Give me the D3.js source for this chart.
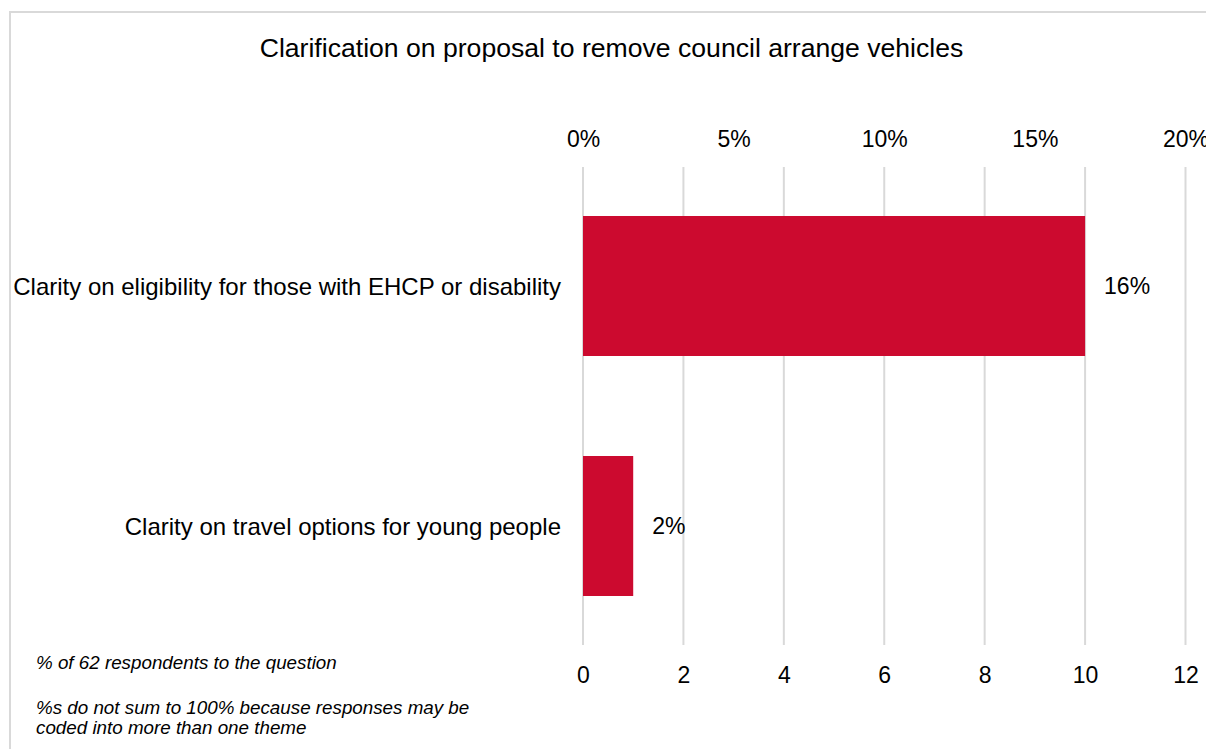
<!DOCTYPE html>
<html>
<head>
<meta charset="utf-8">
<script src="https://cdn.jsdelivr.net/npm/d3@7"></script>
<style>
  html, body { margin: 0; padding: 0; background: #ffffff; }
  svg { display: block; font-family: "Liberation Sans", Arial, sans-serif; }
</style>
</head>
<body>
<svg id="chart" width="1206" height="749"></svg>
<script>
// Themes and the number of respondents who raised each one
const categories = [
  "Clarity on eligibility for those with EHCP or disability",
  "Clarity on travel options for young people"
];
const counts = [10, 1];
const respondents = 62;

// Axis ticks: respondent counts along the bottom, share of respondents along the top
const countTicks = [0, 2, 4, 6, 8, 10, 12];
const shareTicks = [0, 0.05, 0.10, 0.15, 0.20];

const title = "Clarification on proposal to remove council arrange vehicles";
const notes = [
  "% of 62 respondents to the question",
  "%s do not sum to 100% because responses may be",
  "coded into more than one theme"
];

const rows = categories.map((c, i) => ({ name: c, count: counts[i], share: counts[i] / respondents }));

const svg = d3.select("#chart");
const barColor = "#cc0a2f";
const gridColor = "#d9d9d9";
const textColor = "#000000";

// Outer frame
svg.append("rect")
  .attr("x", 10).attr("y", 12)
  .attr("width", 1260).attr("height", 800)
  .attr("fill", "none")
  .attr("stroke", gridColor)
  .attr("stroke-width", 2);

// Scales
const x = d3.scaleLinear().domain([0, 12]).range([583, 1185.5]);
const xShare = d3.scaleLinear().domain([0, 0.20]).range([583, 1185.5]);
const y = d3.scaleBand().domain(categories).range([166, 646])
  .paddingInner(100 / 240).paddingOuter(50 / 240);

// Title
svg.append("text")
  .attr("x", 611.5).attr("y", 57)
  .attr("text-anchor", "middle")
  .attr("font-size", 26.6)
  .attr("fill", textColor)
  .text(title);

// Vertical gridlines
svg.append("g")
  .selectAll("line")
  .data(countTicks)
  .join("line")
  .attr("x1", d => x(d)).attr("x2", d => x(d))
  .attr("y1", 167).attr("y2", 645)
  .attr("stroke", gridColor)
  .attr("stroke-width", 2);

// Top axis (share of respondents)
const topAxis = svg.append("g")
  .attr("transform", "translate(0,147)")
  .call(d3.axisTop(xShare).tickValues(shareTicks).tickFormat(d3.format(".0%")).tickSize(0).tickPadding(0));
topAxis.select(".domain").remove();
topAxis.selectAll("text")
  .attr("font-size", 23)
  .attr("font-family", "Liberation Sans, Arial, sans-serif")
  .attr("fill", textColor)
  .attr("dy", 0);

// Bottom axis (respondent counts)
const bottomAxis = svg.append("g")
  .attr("transform", "translate(0,683)")
  .call(d3.axisBottom(x).tickValues(countTicks).tickFormat(d3.format("d")).tickSize(0).tickPadding(0));
bottomAxis.select(".domain").remove();
bottomAxis.selectAll("text")
  .attr("font-size", 23)
  .attr("font-family", "Liberation Sans, Arial, sans-serif")
  .attr("fill", textColor)
  .attr("dy", 0);

// Bars
svg.append("g")
  .selectAll("rect")
  .data(rows)
  .join("rect")
  .attr("x", x(0))
  .attr("y", d => y(d.name))
  .attr("width", d => x(d.count) - x(0))
  .attr("height", y.bandwidth())
  .attr("fill", barColor);

// Value labels
svg.append("g")
  .selectAll("text")
  .data(rows)
  .join("text")
  .attr("x", d => x(d.count) + 19)
  .attr("y", d => y(d.name) + y.bandwidth() / 2)
  .attr("dy", "0.35em")
  .attr("font-size", 23)
  .attr("fill", textColor)
  .text(d => d3.format(".0%")(d.share));

// Category labels
svg.append("g")
  .selectAll("text")
  .data(rows)
  .join("text")
  .attr("x", 561)
  .attr("y", d => y(d.name) + y.bandwidth() / 2)
  .attr("dy", "0.38em")
  .attr("text-anchor", "end")
  .attr("font-size", 24)
  .attr("fill", textColor)
  .text(d => d.name);

// Footnotes
svg.append("g")
  .selectAll("text")
  .data(notes)
  .join("text")
  .attr("x", 36)
  .attr("y", (d, i) => [669, 714, 734][i])
  .attr("font-size", 18.8)
  .attr("font-style", "italic")
  .attr("fill", textColor)
  .text(d => d);
</script>
</body>
</html>
